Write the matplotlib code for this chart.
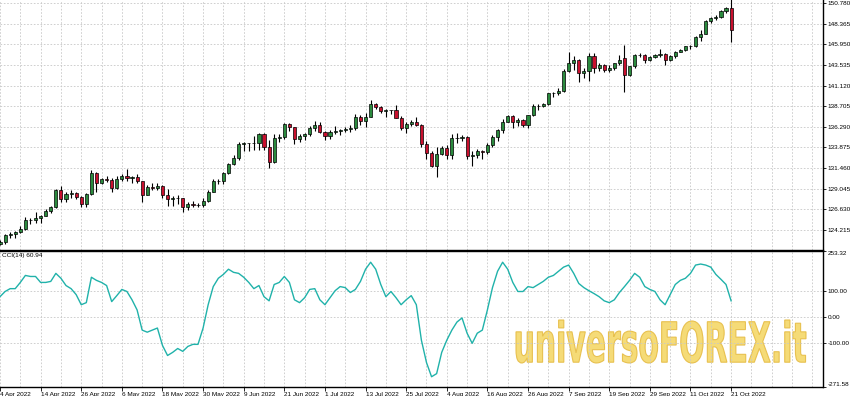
import numpy as np
import pandas as pd
import matplotlib
matplotlib.use('Agg')
import matplotlib.pyplot as plt
from matplotlib.textpath import TextPath
from matplotlib.patches import PathPatch
from matplotlib.font_manager import FontProperties
from matplotlib.transforms import Affine2D

# USDJPY daily bars, 4 Apr 2022 - 21 Oct 2022
dates = pd.bdate_range('2022-04-04', '2022-10-21')

opens = [122.55, 122.77, 123.60, 123.75, 123.95, 124.35, 125.35, 125.40, 125.60, 125.90,
         126.40, 126.95, 128.90, 127.85, 128.40, 128.50, 128.10, 127.20, 128.40, 130.85,
         129.75, 130.15, 130.10, 129.10, 130.20, 130.55, 130.30, 130.45, 129.95, 128.35,
         129.20, 129.15, 129.40, 128.25, 127.80, 127.90, 127.90, 126.85, 127.30, 127.10,
         127.10, 127.60, 128.70, 130.00, 129.90, 130.90, 131.90, 132.60, 134.25, 134.35,
         134.40, 134.40, 135.45, 133.90, 132.20, 134.95, 135.10, 136.65, 136.25, 134.90,
         135.20, 135.45, 136.10, 136.55, 135.70, 135.20, 135.70, 135.85, 135.90, 136.00,
         136.10, 137.40, 137.00, 137.45, 138.95, 138.55, 138.15, 138.20, 138.20, 137.35,
         136.10, 136.65, 136.90, 136.55, 134.25, 133.25, 131.65, 133.15, 133.80, 133.00,
         135.00, 134.95, 135.05, 132.90, 132.95, 133.45, 133.30, 134.20, 135.10, 135.90,
         136.90, 137.50, 136.80, 137.10, 136.50, 137.65, 138.75, 138.75, 138.95, 140.20,
         140.20, 140.50, 142.80, 143.80, 144.10, 142.60, 142.85, 144.60, 143.20, 143.50,
         142.90, 143.20, 143.70, 144.30, 142.40, 143.35, 144.70, 144.75, 144.15, 144.45,
         144.70, 144.80, 144.10, 144.60, 145.10, 145.30, 145.70, 145.80, 146.85, 147.20,
         148.70, 149.00, 149.20, 149.85, 150.15]
highs = [123.05, 123.70, 124.00, 124.05, 124.70, 125.75, 125.60, 126.30, 126.00, 126.65,
         127.00, 129.05, 129.40, 128.60, 128.85, 128.70, 128.20, 128.50, 131.25, 131.00,
         130.35, 130.50, 130.35, 130.50, 130.80, 131.35, 130.50, 130.80, 130.00, 129.45,
         129.75, 129.75, 129.50, 128.95, 128.20, 128.25, 128.00, 127.50, 127.60, 127.35,
         127.90, 128.90, 130.15, 130.20, 131.00, 132.00, 133.00, 134.55, 134.55, 134.45,
         135.20, 135.60, 135.60, 134.70, 135.40, 135.45, 136.70, 136.70, 136.30, 135.40,
         135.55, 136.40, 137.00, 136.85, 135.85, 135.90, 136.35, 136.00, 136.30, 136.55,
         137.75, 137.65, 137.85, 139.40, 139.10, 138.70, 138.40, 138.30, 138.85, 137.50,
         136.80, 137.05, 137.45, 136.60, 134.60, 133.40, 133.90, 134.00, 134.10, 135.50,
         135.55, 135.30, 135.20, 133.40, 133.70, 133.60, 134.40, 135.30, 136.00, 137.20,
         137.70, 137.65, 137.35, 137.20, 137.70, 139.00, 139.00, 139.10, 140.25, 140.40,
         140.80, 143.00, 145.00, 144.55, 144.20, 143.20, 144.95, 144.95, 143.80, 143.65,
         143.55, 143.75, 144.70, 145.90, 143.45, 144.80, 144.90, 144.85, 144.60, 144.80,
         145.40, 144.90, 144.70, 145.15, 145.45, 145.80, 145.90, 146.95, 147.65, 148.85,
         149.10, 149.35, 149.95, 150.30, 151.95]
lows = [122.40, 122.60, 123.30, 123.30, 123.80, 124.20, 124.90, 125.00, 125.00, 125.80,
        126.20, 126.80, 127.50, 127.50, 127.95, 127.80, 126.95, 126.95, 128.30, 128.70,
        129.60, 129.80, 128.60, 128.95, 129.95, 130.00, 129.75, 129.75, 127.50, 128.30,
        128.85, 128.85, 128.00, 127.05, 127.00, 127.30, 126.35, 126.55, 126.85, 126.85,
        126.90, 127.50, 128.65, 129.55, 129.65, 130.75, 131.80, 132.45, 133.45, 133.40,
        133.60, 133.60, 133.55, 131.50, 132.10, 134.50, 134.90, 135.80, 134.30, 134.55,
        134.75, 135.20, 135.85, 135.60, 134.75, 134.90, 135.40, 135.30, 135.70, 135.70,
        135.95, 136.55, 136.30, 137.40, 138.40, 137.95, 137.40, 137.80, 137.30, 135.95,
        135.60, 136.40, 136.40, 133.95, 132.55, 131.55, 130.40, 132.95, 132.55, 132.50,
        134.35, 134.60, 132.50, 131.75, 132.60, 132.55, 133.10, 133.90, 134.65, 135.60,
        136.80, 136.20, 136.35, 136.25, 136.20, 137.50, 138.30, 138.55, 138.85, 139.75,
        140.05, 140.40, 142.70, 142.95, 141.50, 141.95, 141.65, 142.55, 142.85, 142.70,
        142.65, 142.90, 143.55, 140.35, 142.25, 143.20, 144.50, 143.75, 143.95, 144.40,
        144.50, 143.55, 143.95, 144.40, 145.00, 145.20, 145.40, 145.60, 146.35, 147.10,
        148.40, 148.85, 149.05, 149.65, 146.20]
closes = [122.75, 123.60, 123.75, 123.95, 124.35, 125.35, 125.40, 125.60, 125.90, 126.40,
          126.95, 128.90, 127.85, 128.40, 128.50, 128.10, 127.20, 128.40, 130.85, 129.75,
          130.15, 130.10, 129.10, 130.20, 130.55, 130.30, 130.45, 129.95, 128.35, 129.20,
          129.15, 129.40, 128.25, 127.80, 127.90, 127.90, 126.85, 127.30, 127.10, 127.10,
          127.60, 128.70, 130.00, 129.90, 130.90, 131.90, 132.60, 134.25, 134.35, 134.40,
          134.40, 135.45, 133.90, 132.20, 134.95, 135.10, 136.65, 136.25, 134.90, 135.20,
          135.45, 136.10, 136.55, 135.70, 135.20, 135.70, 135.85, 135.90, 136.00, 136.10,
          137.40, 137.00, 137.45, 138.95, 138.55, 138.15, 138.20, 138.20, 137.35, 136.10,
          136.65, 136.90, 136.55, 134.25, 133.25, 131.65, 133.15, 133.80, 133.00, 135.00,
          134.95, 135.05, 132.90, 132.95, 133.45, 133.30, 134.20, 135.10, 135.90, 136.90,
          137.50, 136.80, 137.10, 136.50, 137.65, 138.75, 138.75, 138.95, 140.20, 140.20,
          140.50, 142.80, 143.80, 144.10, 142.60, 142.85, 144.60, 143.20, 143.50, 142.90,
          143.20, 143.70, 144.10, 142.40, 143.35, 144.70, 144.75, 144.15, 144.45, 144.70,
          144.80, 144.10, 144.60, 145.10, 145.30, 145.70, 145.80, 146.85, 147.20, 148.70,
          149.00, 149.20, 149.85, 150.15, 147.60]

# CCI(14)
cci = [77, 97, 108, 108, 132, 159, 155, 155, 132, 132,
       136, 167, 148, 120, 108, 85, 46, 54, 152, 140,
       132, 120, 58, 81, 105, 97, 65, 26, -52, -60,
       -52, -44, -111, -150, -138, -123, -134, -115, -107, -107,
       -44, 46, 116, 148, 163, 183, 171, 167, 152, 132,
       108, 120, 77, 61, 124, 132, 155, 132, 65, 54,
       73, 105, 108, 65, 46, 73, 100, 116, 112, 93,
       105, 136, 183, 210, 183, 124, 77, 97, 73, 46,
       65, 81, 46, -91, -177, -232, -220, -138, -91, -52,
       -21, -5, -64, -103, -64, -52, 26, 112, 175, 210,
       183, 132, 97, 97, 116, 112, 124, 136, 152, 159,
       175, 191, 199, 167, 128, 112, 100, 89, 77, 61,
       54, 65, 93, 116, 140, 167, 152, 116, 105, 97,
       65, 46, 85, 124, 140, 148, 167, 199, 203, 199,
       191, 163, 144, 124, 60.94]

price_ticks = [124.215, 126.630, 129.045, 131.460, 133.875, 136.290,
               138.705, 141.120, 143.535, 145.950, 148.365, 150.780]
cci_ticks = [253.32, 100.00, 0.00, -100.00, -271.58]

plt.rcParams['font.family'] = ['Liberation Sans', 'DejaVu Sans']
fs = 4.6

W, H = 850, 396
fig = plt.figure(figsize=(W / 100, H / 100), dpi=100)


def box(x0, y0, x1, y1):
    return [x0 / W, 1 - y1 / H, (x1 - x0) / W, (y1 - y0) / H]


ax = fig.add_axes(box(0, 0, 823, 250))
ax2 = fig.add_axes(box(0, 251, 823, 387), sharex=ax)

o = np.array(opens)
h = np.array(highs)
l = np.array(lows)
c = np.array(closes)
x = np.arange(len(dates))
up = c >= o

grid_kw = dict(color='#c8c8c8', linestyle=(0, (2, 2)), linewidth=0.6)

# candles
ax.vlines(x, l, h, color='black', linewidth=0.8, zorder=3)
ax.bar(x[up], (c - o)[up], bottom=o[up], width=0.62, color='#2b8a3e',
       edgecolor='black', linewidth=0.5, zorder=4)
ax.bar(x[~up], (o - c)[~up], bottom=c[~up], width=0.62, color='#c8102e',
       edgecolor='black', linewidth=0.5, zorder=4)

ax.set_xlim(0.08, 162.1)
ax.set_ylim(121.865, 151.133)
ax.set_yticks(price_ticks)
ax.set_yticklabels([f'{v:.3f}' for v in price_ticks])

# cci pane
ax2.plot(x, cci, color='#20b2aa', linewidth=1.0, zorder=3)
ax2.set_ylim(-271.58, 253.32)
ax2.set_yticks(cci_ticks)
ax2.set_yticklabels([f'{v:.2f}' for v in cci_ticks])
ax2.text(0.003, 0.985, 'CCI(14) 60.94', transform=ax2.transAxes,
         va='top', ha='left', fontsize=fs, color='black')

lab_pos = list(range(0, len(dates), 8))
ax2.set_xticks(lab_pos)
ax2.set_xticklabels([f'{dates[i].day} {dates[i].strftime("%b")} {dates[i].year}' for i in lab_pos])
ax2.set_xticks([i for i in range(0, 162, 4) if i not in lab_pos], minor=True)

for a in (ax, ax2):
    a.set_facecolor('white')
    a.spines['left'].set_visible(False)
    for s in ('right', 'bottom', 'top'):
        a.spines[s].set_color('black')
        a.spines[s].set_linewidth(1.0)
    a.yaxis.tick_right()
    a.tick_params(axis='y', which='both', right=True, left=False, labelright=True,
                  labelleft=False, length=2.5, width=0.6, labelsize=fs, pad=1, colors='black')
    a.grid(True, which='both', axis='x', **grid_kw)
    a.grid(True, which='major', axis='y', **grid_kw)
    a.set_axisbelow(True)

ax.spines['top'].set_visible(False)
ax.tick_params(axis='x', which='both', bottom=False, labelbottom=False)
ax2.tick_params(axis='x', which='major', length=3, width=0.6, labelsize=fs, pad=0.5)
ax2.tick_params(axis='x', which='minor', length=0)
for t in ax2.get_xticklabels():
    t.set_ha('left')
ylabs = ax2.get_yticklabels()
ylabs[0].set_va('top')
ylabs[-1].set_va('bottom')

# watermark
tp = TextPath((0, 0), 'universoFOREX.it', size=1,
              prop=FontProperties(family='DejaVu Sans', weight='bold'))
ext = tp.get_extents()
X0, X1, Y0, Y1 = 516 / W, 806 / W, 1 - 363 / H, 1 - 320 / H
tr = (Affine2D().translate(-ext.x0, -ext.y0)
      .scale((X1 - X0) / ext.width, (Y1 - Y0) / ext.height)
      .translate(X0, Y0) + fig.transFigure)
ax2.add_patch(PathPatch(tp, transform=tr, facecolor='#f4d868', edgecolor='#e6bc45',
                        linewidth=0.8, alpha=0.9, zorder=0.3))

fig.savefig('out.png', dpi=100)
